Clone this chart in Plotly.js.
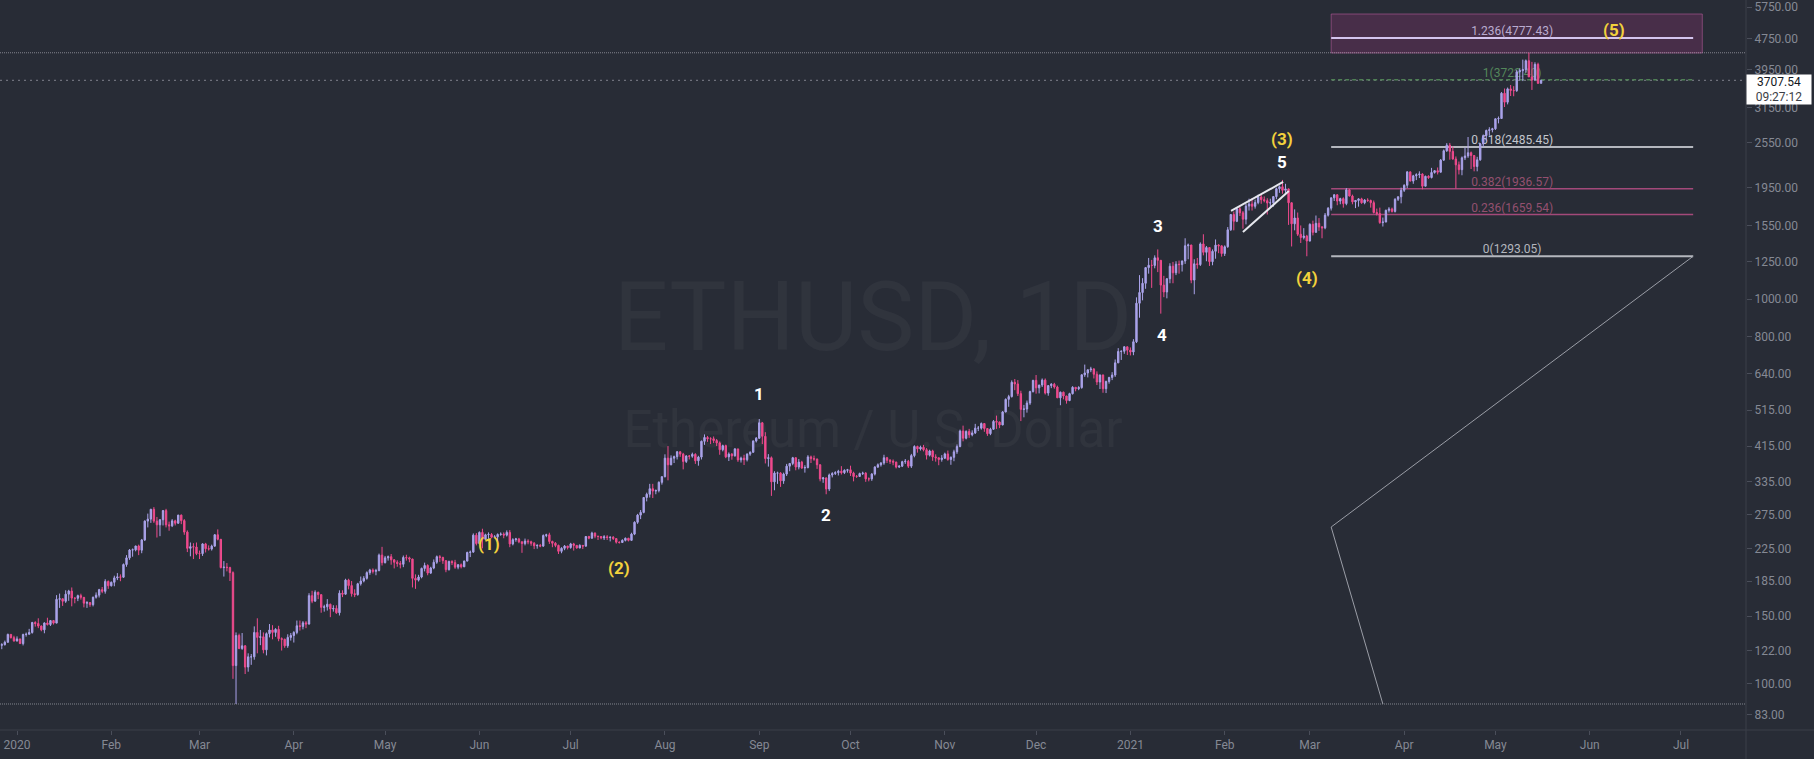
<!DOCTYPE html>
<html>
<head>
<meta charset="utf-8">
<script src="https://cdn.plot.ly/plotly-3.0.1.min.js"></script>
<style>
html,body{margin:0;padding:0;background:#282c36;overflow:hidden;}
#chart{width:1814px;height:759px;}
</style>
</head>
<body>
<div id="chart"></div>
<script>
// ---------------- DATA ----------------
// Daily ETHUSD candles, first candle on startDate; open of each day = previous close.
const startDate = [2019, 11, 26];
const firstOpen = 127.3;

const highs = [
  129.0,127.5,129.5,135.0,134.5,133.3,
  132.8,130.9,135.0,135.9,138.9,144.9,145.4,148.0,141.8,144.5,148.5,146.5,146.5,170.0,171.6,166.5,175.0,175.5,178.0,167.9,170.5,171.5,168.0,164.0,163.0,168.5,172.8,176.5,178.5,187.0,185.5,
  184.5,191.0,194.0,192.5,205.5,216.0,224.0,224.8,228.5,230.0,238.0,266.0,277.0,285.0,288.0,271.5,268.0,283.0,285.0,264.0,268.0,267.0,275.0,275.5,268.0,250.5,233.0,232.0,233.0,
  222.0,232.0,232.5,229.0,230.0,245.0,252.0,237.5,208.5,206.0,201.5,196.0,136.0,135.0,135.5,126.0,120.0,119.5,141.0,148.0,138.0,136.0,136.0,143.0,142.0,139.5,141.5,132.0,131.0,134.5,135.5,
  137.0,146.0,146.0,145.5,145.5,172.0,174.5,175.0,173.5,171.0,160.5,166.0,161.5,160.0,160.0,175.0,175.0,187.5,187.5,185.0,176.0,183.0,190.0,190.5,196.0,199.0,199.5,199.0,218.0,227.0,
  215.0,215.5,217.5,211.0,209.5,208.5,215.5,216.5,214.0,211.5,192.5,192.0,200.5,206.5,204.5,201.5,210.5,215.5,216.0,214.0,209.5,209.0,209.5,210.0,204.5,205.5,209.0,220.5,222.0,246.0,246.5,
  249.0,253.0,245.5,247.5,246.5,243.5,246.0,247.5,247.5,250.5,251.0,239.0,239.5,239.5,234.5,238.5,237.5,235.5,233.5,230.5,231.0,244.5,245.5,247.0,235.5,233.5,230.0,226.5,229.5,228.5,
  232.5,232.5,229.5,230.5,229.5,242.0,242.5,248.5,247.5,242.5,242.0,243.5,243.5,241.5,242.0,239.0,234.5,237.5,240.0,239.5,247.0,264.5,276.5,283.0,306.0,314.0,331.0,331.0,320.0,336.0,346.5,
  395.0,415.0,392.5,392.0,403.0,402.5,398.5,393.0,393.5,399.0,397.5,391.5,429.0,445.0,441.0,437.5,439.5,433.0,426.5,418.5,418.5,399.5,398.0,410.0,408.5,389.5,394.0,397.5,402.0,429.0,438.0,
  488.0,479.0,451.0,395.5,390.0,357.0,356.0,355.0,354.0,373.0,375.0,389.0,388.0,384.0,380.0,370.0,393.0,392.0,392.0,385.0,372.0,345.0,344.0,352.0,355.0,357.0,360.0,368.0,361.0,362.0,
  369.0,356.0,349.0,354.0,356.0,355.0,344.0,353.0,368.0,374.0,377.0,394.0,389.0,384.0,383.0,378.0,370.0,380.0,384.0,382.0,396.0,417.0,416.0,416.0,418.0,410.0,406.0,406.0,395.0,387.0,393.0,
  399.0,404.0,390.0,406.0,419.0,458.0,469.0,456.0,460.0,456.0,474.0,468.0,478.0,476.0,462.0,463.0,485.0,498.0,481.0,512.0,552.0,564.0,615.0,620.0,616.0,578.0,531.0,545.0,578.0,617.0,
  635.0,599.0,622.0,622.0,598.0,605.0,606.0,596.0,575.0,575.0,561.0,571.0,594.0,591.0,594.0,637.0,676.0,657.0,667.0,662.0,649.0,637.0,637.0,614.0,628.0,646.0,697.0,746.0,736.0,754.0,752.0,
  749,787,1011,1155,1134,1210,1280,1265,1300,1347,1264,1150,1135,1240,1250,1255,1260,1260,1440,1395,1385,1270,1280,1405,1475,1375,1365,1347,1430,1390,1380,
  1380,1540,1665,1690,1730,1740,1695,1770,1825,1830,1815,1870,1875,1850,1830,1825,1855,1950,1975,2042,1995,1940,1785,1712,1680,1555,1530,1470,
  1575,1600,1650,1625,1550,1675,1735,1840,1875,1875,1835,1840,1945,1935,1870,1810,1830,1835,1820,1830,1815,1805,1720,1730,1630,1710,1735,1730,1830,1850,1950,
  1990,2150,2145,2105,2125,2150,2125,2095,2100,2195,2165,2200,2315,2450,2545,2548,2495,2350,2280,2350,2480,2640,2420,2370,2345,2545,2680,2760,2800,2790,
  2950,2985,3455,3530,3550,3605,3580,3950,3985,4197,4200,4372,4140,4130,4120,3720
];

const lows = [
  125.9,123.0,125.7,127.9,131.1,128.7,
  128.8,126.9,125.8,132.6,134.4,135.0,140.8,139.5,136.9,135.3,141.7,141.3,142.6,143.6,157.5,159.4,162.3,164.3,159.0,161.9,164.0,165.5,158.0,157.5,158.5,158.9,166.5,167.6,172.0,171.5,176.5,
  179.0,179.3,186.0,184.8,188.5,201.5,210.0,214.0,221.0,216.0,218.5,235.0,255.0,262.0,262.0,240.0,242.0,258.0,255.0,250.0,255.5,258.0,260.5,260.0,244.0,220.0,214.5,211.0,216.0,
  211.0,215.0,219.5,222.0,222.0,227.0,236.0,199.5,190.0,196.0,185.0,103.0,88.6,123.0,122.5,106.0,107.5,112.0,115.5,120.0,126.0,120.0,118.5,132.0,130.5,132.5,129.0,122.0,124.0,124.0,129.5,
  128.0,134.5,137.5,138.5,139.5,142.5,162.0,163.5,166.0,153.0,154.0,155.0,149.0,154.0,152.0,150.5,168.0,170.5,176.0,168.5,168.0,169.5,180.0,183.5,186.5,192.0,193.5,191.5,196.0,203.0,
  205.5,209.0,204.0,199.5,201.5,199.5,201.0,209.0,207.0,178.0,176.5,184.5,188.0,196.0,191.5,193.0,198.5,205.0,207.5,205.0,195.0,197.0,203.5,199.0,198.5,199.5,201.0,208.0,213.5,219.0,229.0,
  230.0,225.0,236.0,238.0,239.0,239.0,234.0,242.5,239.0,241.5,226.5,229.0,234.0,232.0,219.0,229.0,230.5,228.5,224.0,224.5,226.5,227.0,240.5,231.0,226.5,226.5,217.5,218.5,222.5,223.5,
  224.5,222.0,224.5,225.0,224.0,227.0,237.5,238.5,239.0,236.5,237.5,236.5,236.5,234.5,236.5,231.5,231.5,232.5,234.5,234.5,235.5,243.5,260.5,268.0,277.5,298.0,305.0,304.0,311.0,314.5,329.5,
  344.0,338.0,370.0,375.0,383.0,389.0,361.0,375.0,383.0,387.0,373.0,369.0,383.0,418.0,425.5,420.0,422.5,415.0,394.0,402.0,386.0,379.5,382.5,389.5,377.5,376.0,370.5,378.5,391.5,398.5,424.0,
  433.0,420.0,374.0,367.0,308.0,318.5,331.0,325.0,331.0,347.0,357.0,370.0,359.0,361.0,362.0,354.0,363.0,375.0,380.0,362.0,336.0,333.0,311.0,317.0,344.0,349.0,348.0,350.0,351.0,354.0,
  347.0,336.0,343.0,345.0,349.0,335.0,336.0,337.0,348.0,364.0,367.0,371.0,375.0,373.0,370.0,363.0,364.0,366.0,373.0,364.0,364.0,388.0,399.0,404.0,402.0,383.0,390.0,380.0,378.0,370.0,378.0,
  384.0,380.0,371.0,379.0,396.0,412.0,427.0,432.0,436.0,440.0,446.0,454.0,458.0,452.0,441.0,443.0,457.0,460.0,462.0,470.0,508.0,525.0,555.0,580.0,560.0,482.0,493.0,507.0,531.0,572.0,
  568.0,569.0,591.0,565.0,561.0,587.0,585.0,554.0,530.0,549.0,535.0,543.0,565.0,576.0,580.0,585.0,628.0,626.0,646.0,622.0,598.0,584.0,571.0,570.0,603.0,616.0,628.0,682.0,695.0,721.0,716.0,
  714,715,769,895,993,1064,1165,1070,1203,1176,917,1012,1005,1100,1100,1155,1165,1180,1235,1270,1100,1030,1200,1220,1300,1255,1220,1225,1274,1317,1290,
  1295,1360,1505,1510,1586,1645,1525,1565,1700,1700,1720,1765,1770,1785,1660,1730,1740,1820,1890,1880,1890,1560,1371,1510,1460,1400,1430,1293.05,
  1412,1465,1490,1505,1440,1520,1640,1700,1800,1755,1765,1730,1755,1850,1765,1725,1740,1770,1765,1790,1730,1670,1650,1570,1545,1585,1680,1680,1680,1800,1775,
  1900,1945,2025,1995,2040,2065,1930,1965,2055,2060,2120,2110,2135,2290,2415,2305,2305,1940,2110,2100,2300,2330,2180,2150,2150,2290,2490,2580,2660,2715,
  2755,2865,2945,3160,3210,3375,3370,3460,3705,3690,3880,3780,3500,3690,3630,3650
];

const closes = [
  125.9,126.4,128.2,134.4,131.8,129.2,
  130.8,127.2,134.3,134.5,135.9,144.3,143.4,141.3,138.1,143.9,142.6,146.0,143.8,165.8,166.4,163.9,171.0,174.2,167.0,166.8,169.5,167.8,162.0,162.6,160.6,167.9,170.0,175.7,173.9,184.6,179.8,
  183.6,188.5,189.6,189.3,204.2,212.5,222.7,223.0,228.2,222.5,236.6,264.8,268.0,284.2,264.8,259.0,267.0,282.0,259.0,257.5,265.2,261.5,274.5,265.6,248.0,225.0,227.2,226.8,218.0,
  218.0,231.0,224.5,224.0,228.0,244.0,237.5,200.5,201.0,200.5,194.5,111.5,133.5,123.5,125.5,110.5,117.5,117.5,136.0,132.0,132.5,122.5,135.0,138.0,136.0,138.5,131.0,130.5,125.5,132.0,133.5,
  136.0,141.5,141.0,144.0,143.0,169.5,164.0,173.0,170.5,158.0,158.5,161.0,156.5,157.0,153.0,172.0,171.0,186.0,180.0,171.5,170.5,182.0,185.0,188.0,194.5,197.5,196.0,197.0,216.0,206.5,
  212.5,214.0,210.0,207.0,205.5,204.5,213.0,212.5,211.0,188.0,186.0,189.5,199.5,203.0,194.0,200.0,207.0,214.0,213.0,209.0,198.0,208.0,206.5,201.0,204.0,201.5,208.5,219.5,220.0,243.5,231.5,
  247.5,237.5,244.0,244.5,240.5,241.0,244.5,245.0,243.5,247.5,231.0,237.0,238.0,234.0,231.5,235.0,234.0,232.0,228.5,229.0,228.0,243.0,244.0,234.5,232.0,229.0,221.0,225.0,228.0,226.0,
  231.0,229.0,225.5,229.0,228.0,241.5,239.0,246.5,242.0,241.5,239.5,241.0,240.0,240.5,238.5,233.5,233.0,236.0,239.0,236.0,245.0,263.0,274.5,279.0,305.0,311.0,321.5,317.0,318.0,334.0,345.5,
  386.0,371.0,386.0,389.5,401.0,395.5,378.5,391.0,390.5,395.0,380.0,388.5,427.0,437.0,433.5,433.5,429.0,423.0,406.0,416.0,389.0,395.5,391.5,408.0,382.0,386.0,382.5,395.5,400.0,428.0,435.0,
  477.0,440.0,385.0,387.0,335.0,353.0,353.0,337.0,351.0,368.0,374.0,387.0,366.0,377.0,364.0,365.0,389.0,385.0,384.0,371.0,341.0,343.0,321.0,349.0,352.0,354.0,357.0,354.0,359.0,360.0,
  353.0,346.0,346.0,352.0,353.0,341.0,341.0,351.0,366.0,371.0,375.0,387.0,381.0,379.0,377.0,366.0,368.0,378.0,379.0,368.0,392.0,414.0,408.0,412.0,406.0,393.0,403.0,389.0,387.0,383.0,386.0,
  396.0,383.0,388.0,401.0,414.0,454.0,435.0,453.0,444.0,449.0,462.0,462.0,475.0,461.0,447.0,459.0,481.0,479.0,471.0,509.0,549.0,558.0,608.0,602.0,568.0,517.0,518.0,537.0,575.0,615.0,
  588.0,598.0,616.0,570.0,596.0,601.0,591.0,554.0,573.0,560.0,545.0,568.0,590.0,585.0,589.0,636.0,643.0,655.0,658.0,638.0,609.0,635.0,585.0,611.0,626.0,635.0,683.0,731.0,732.0,752.0,737.0,
  729,775,976,1041,1100,1208,1225,1224,1281,1262,1088,1044,1130,1218,1171,1233,1230,1257,1377,1383,1121,1236,1230,1392,1324,1362,1252,1332,1382,1376,1314,
  1369,1515,1660,1594,1718,1677,1614,1746,1768,1744,1783,1843,1814,1804,1779,1781,1848,1937,1960,1919,1935,1781,1570,1626,1475,1446,1459,1417,
  1565,1492,1575,1541,1533,1654,1724,1834,1868,1799,1826,1772,1924,1854,1791,1806,1823,1781,1810,1806,1782,1680,1669,1582,1587,1702,1716,1691,1819,1846,1919,
  1977,2143,2028,2093,2107,2115,1967,2087,2072,2135,2158,2139,2299,2432,2514,2423,2315,2235,2171,2331,2357,2403,2363,2213,2303,2534,2662,2746,2757,2773,
  2945,2950,3431,3253,3522,3490,3484,3902,3928,3952,4168,3785,3715,4079,3641,3707.54
];

// Axis ticks
const monthTicks = ['2020-01-01','2020-02-01','2020-03-01','2020-04-01','2020-05-01','2020-06-01','2020-07-01','2020-08-01','2020-09-01','2020-10-01','2020-11-01','2020-12-01','2021-01-01','2021-02-01','2021-03-01','2021-04-01','2021-05-01','2021-06-01','2021-07-01'];
const monthLabels = ['2020','Feb','Mar','Apr','May','Jun','Jul','Aug','Sep','Oct','Nov','Dec','2021','Feb','Mar','Apr','May','Jun','Jul'];
const priceTicks = [83,100,122,150,185,225,275,335,415,515,640,800,1000,1250,1550,1950,2550,3150,3950,4750,5750];

// Fibonacci extension (log)
const fibRatios = ['1.236','1','0.618','0.382','0.236','0'];
const fibPrices = [4777.43, 3722.40, 2485.45, 1936.57, 1659.54, 1293.05];
const fibDates = ['2021-03-08','2021-07-05'];

// Target zone rectangle
const zoneDates = ['2021-03-08','2021-07-08'];
const zonePrices = [4367, 5514];

// Trend-based path drawing
const pathDates = ['2021-07-05','2021-03-08','2021-03-25'];
const pathPrices = [1293.05, 255.6, 88.6];

// Rising wedge
const wedgeUpperDates = ['2021-02-03 02:00','2021-02-20 05:00'];
const wedgeUpperPrices = [1696, 2017];
const wedgeLowerDates = ['2021-02-07 00:00','2021-02-22 02:00'];
const wedgeLowerPrices = [1495, 1911];

// Elliott wave labels
const waveTexts = ['(1)','(2)','1','2','3','4','5','(3)','(4)','(5)'];
const waveDates = ['2020-06-04','2020-07-17','2020-09-01','2020-09-23','2021-01-10','2021-01-11 10:00','2021-02-19 19:00','2021-02-19 19:00','2021-02-28','2021-06-09'];
const wavePrices = [231, 200, 567, 275, 1550, 807, 2274, 2609, 1135, 5012];

// Price lines
const highPrice = 4372;
const lowPrice = 88.6;
const lastPrice = 3707.54;
const countdown = '09:27:12';

// ---------------- BUILD ----------------
const BG = '#282c36';
const AXIS_TEXT = '#858994';
const xRange = ['2019-12-26 09:53', '2021-07-22 08:53'];
const yRange = [1.8798, 3.7779];

const dates = [], opens = [], H = [], L = [];
for (let i = 0; i < closes.length; i++) {
  const d = new Date(Date.UTC(startDate[0], startDate[1], startDate[2] + i));
  dates.push(d.toISOString().slice(0, 10));
  const o = i === 0 ? firstOpen : closes[i - 1];
  opens.push(o);
  H.push(Math.max(highs[i], o, closes[i]));
  L.push(Math.min(lows[i], o, closes[i]));
}

const traces = [];

// zone rectangle (base layer, under candles)
traces.push({
  type: 'scatter', mode: 'lines', xaxis: 'x', yaxis: 'y',
  x: [zoneDates[0], zoneDates[1], zoneDates[1], zoneDates[0], zoneDates[0]],
  y: [zonePrices[0], zonePrices[0], zonePrices[1], zonePrices[1], zonePrices[0]],
  fill: 'toself', fillcolor: 'rgba(150,52,120,0.30)',
  line: { color: 'rgba(190,95,160,0.55)', width: 1 }, hoverinfo: 'skip'
});

// price lines
traces.push({ type: 'scatter', mode: 'lines', x: xRange, y: [highPrice, highPrice],
  line: { color: 'rgba(160,163,172,0.75)', width: 1, dash: '1px,1px' }, hoverinfo: 'skip' });
traces.push({ type: 'scatter', mode: 'lines', x: xRange, y: [lowPrice, lowPrice],
  line: { color: 'rgba(160,163,172,0.75)', width: 1, dash: '1px,1px' }, hoverinfo: 'skip' });
traces.push({ type: 'scatter', mode: 'lines', x: xRange, y: [lastPrice, lastPrice],
  line: { color: 'rgba(150,153,162,0.8)', width: 1, dash: '2px,4px' }, hoverinfo: 'skip' });

// fib levels
const fibStyle = {
  '1.236': { line: '#d4c4ee', width: 2, dash: 'solid', text: '#b9abcf' },
  '1':     { line: '#4f8055', width: 1.5, dash: '4px,3px', text: '#54875b' },
  '0.618': { line: '#b4b7be', width: 2, dash: 'solid', text: '#c3c6cd' },
  '0.382': { line: '#a3497a', width: 1.5, dash: 'solid', text: '#93506f' },
  '0.236': { line: '#a3497a', width: 1.5, dash: 'solid', text: '#93506f' },
  '0':     { line: '#b4b7be', width: 2, dash: 'solid', text: '#b4b7be' }
};
const fibMid = '2021-05-06 12:00';
fibRatios.forEach((r, i) => {
  const st = fibStyle[r];
  traces.push({ type: 'scatter', mode: 'lines', x: fibDates, y: [fibPrices[i], fibPrices[i]],
    line: { color: st.line, width: st.width, dash: st.dash }, hoverinfo: 'skip' });
  traces.push({ type: 'scatter', mode: 'text', x: [fibMid], y: [fibPrices[i]],
    text: [r + '(' + fibPrices[i].toFixed(2) + ')'], textposition: 'top center',
    textfont: { family: 'Roboto, sans-serif', size: 12, color: st.text }, hoverinfo: 'skip' });
});

// path drawing
traces.push({ type: 'scatter', mode: 'lines', x: pathDates, y: pathPrices,
  line: { color: '#9a9da6', width: 1 }, hoverinfo: 'skip' });

// candles (overlay layer)
traces.push({
  type: 'candlestick', xaxis: 'x2', yaxis: 'y2',
  x: dates, open: opens, high: H, low: L, close: closes,
  increasing: { line: { color: '#aaa3ea', width: 1 }, fillcolor: '#aaa3ea' },
  decreasing: { line: { color: '#ef4a8d', width: 1 }, fillcolor: '#ef4a8d' },
  whiskerwidth: 0, hoverinfo: 'skip'
});

// wedge (above candles)
traces.push({ type: 'scatter', mode: 'lines', xaxis: 'x2', yaxis: 'y2', x: wedgeUpperDates, y: wedgeUpperPrices,
  line: { color: '#e6e8ee', width: 2 }, hoverinfo: 'skip' });
traces.push({ type: 'scatter', mode: 'lines', xaxis: 'x2', yaxis: 'y2', x: wedgeLowerDates, y: wedgeLowerPrices,
  line: { color: '#e6e8ee', width: 2 }, hoverinfo: 'skip' });

const annotations = waveTexts.map((t, i) => ({
  xref: 'x', yref: 'y', x: waveDates[i], y: Math.log10(wavePrices[i]),
  text: '<b>' + t + '</b>', showarrow: false,
  font: { family: 'Roboto, sans-serif', size: 17, color: t.startsWith('(') ? '#f2d13c' : '#ffffff' },
  xanchor: 'center', yanchor: 'middle'
}));
annotations.push({
  xref: 'paper', yref: 'y', x: 1, y: Math.log10(lastPrice), xanchor: 'left', yanchor: 'top', yshift: 6,
  text: lastPrice.toFixed(2) + '<br><span style="color:#3b3e46">' + countdown + '</span>',
  showarrow: false, bgcolor: '#ffffff', borderpad: 2, width: 60, height: 25, align: 'center',
  font: { family: 'Roboto, sans-serif', size: 12, color: '#131722' }
});

const shapes = [
  // watermark
  { type: 'rect', xref: 'paper', yref: 'paper', x0: 0.30, x1: 0.70, y0: 0.515, y1: 0.635, layer: 'below',
    line: { width: 0 }, fillcolor: 'rgba(0,0,0,0)',
    label: { text: 'ETHUSD, 1D', textposition: 'middle center',
      font: { family: 'Roboto, sans-serif', size: 96, color: 'rgba(255,255,255,0.04)' } } },
  { type: 'rect', xref: 'paper', yref: 'paper', x0: 0.30, x1: 0.70, y0: 0.382, y1: 0.452, layer: 'below',
    line: { width: 0 }, fillcolor: 'rgba(0,0,0,0)',
    label: { text: 'Ethereum / U.S. Dollar', textposition: 'middle center',
      font: { family: 'Roboto, sans-serif', size: 51, color: 'rgba(255,255,255,0.04)' } } },
  // separators
  { type: 'line', xref: 'paper', yref: 'paper', x0: 0, x1: 1814 / 1746, y0: 0, y1: 0,
    line: { color: '#3a3e49', width: 1 } },
  { type: 'line', xref: 'paper', yref: 'paper', x0: 1, x1: 1, y0: -29 / 730, y1: 1,
    line: { color: '#3a3e49', width: 1 } }
];

const layout = {
  width: 1814, height: 759,
  margin: { l: 0, r: 68, t: 0, b: 29, pad: 0 },
  paper_bgcolor: BG, plot_bgcolor: BG,
  showlegend: false, hovermode: false,
  boxgap: 0.35,
  font: { family: 'Roboto, "Liberation Sans", sans-serif', size: 12, color: AXIS_TEXT },
  xaxis: {
    type: 'date', range: xRange, tickmode: 'array', tickvals: monthTicks, ticktext: monthLabels,
    ticks: 'outside', ticklen: 4, tickcolor: '#4a4e5a', showgrid: false, zeroline: false, showline: false,
    tickfont: { size: 12, color: AXIS_TEXT }, rangeslider: { visible: false }, fixedrange: true
  },
  yaxis: {
    type: 'log', side: 'right', range: yRange, tickmode: 'array', tickvals: priceTicks,
    ticktext: priceTicks.map(v => v.toFixed(2)), ticks: 'outside', ticklen: 5, tickcolor: '#4a4e5a',
    showgrid: false, zeroline: false, showline: false, tickfont: { size: 12, color: AXIS_TEXT }, fixedrange: true
  },
  xaxis2: { type: 'date', overlaying: 'x', anchor: 'y2', range: xRange, visible: false, showgrid: false,
    rangeslider: { visible: false }, fixedrange: true },
  yaxis2: { type: 'log', overlaying: 'y', anchor: 'x2', side: 'right', range: yRange, visible: false,
    showgrid: false, fixedrange: true },
  annotations: annotations,
  shapes: shapes
};

Plotly.newPlot('chart', traces, layout, { staticPlot: true, displayModeBar: false });
</script>
</body>
</html>
